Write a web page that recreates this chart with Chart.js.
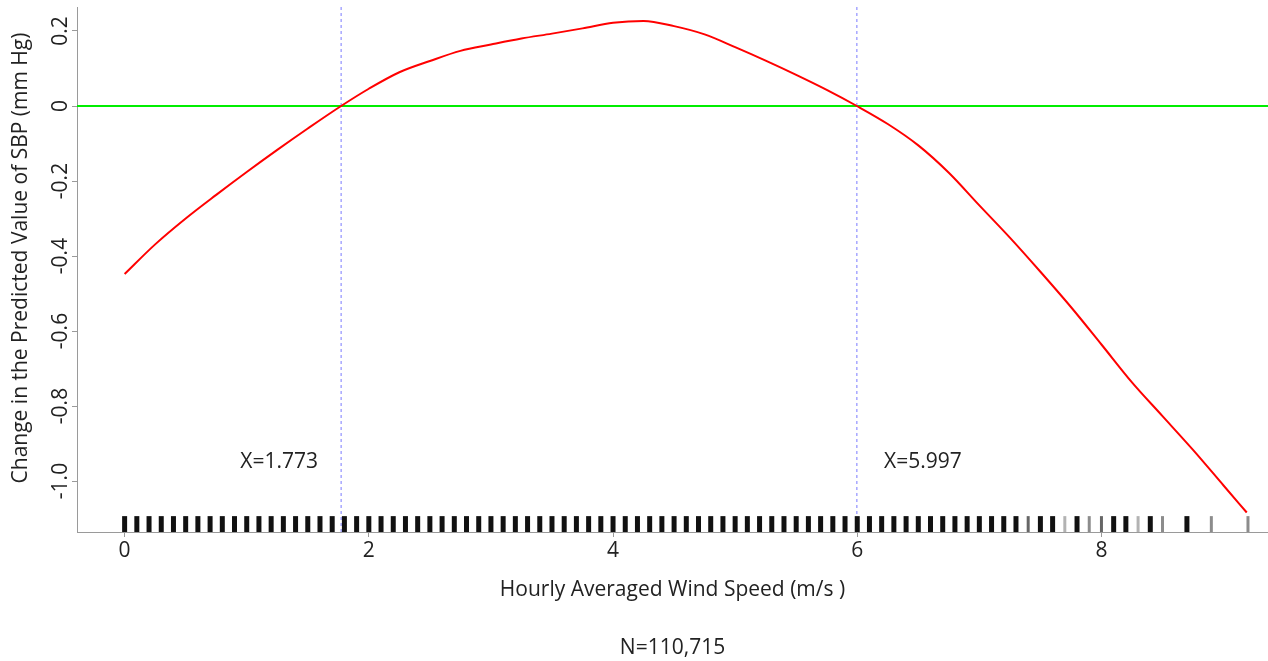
<!DOCTYPE html>
<html lang="en">
<head>
<meta charset="UTF-8">
<title>SBP change by wind speed</title>
<style>
  html, body { margin: 0; padding: 0; background: #fff; }
</style>
</head>
<body>
<canvas id="myChart" width="1268" height="661"></canvas>

<script src="https://cdn.jsdelivr.net/npm/chart.js"></script>
<script>
// fitted curve
const windSpeed = [0, 0.25, 0.5, 0.75, 1, 1.25, 1.5, 1.773, 2, 2.25, 2.5, 2.75, 3, 3.25, 3.5, 3.75,
                   4, 4.25, 4.5, 4.75, 5, 5.25, 5.5, 5.75, 5.997, 6.25, 6.5, 6.75, 7, 7.25, 7.5, 7.75,
                   8, 8.25, 8.5, 8.75, 9, 9.19];
const sbpChange = [-0.448, -0.369, -0.300, -0.237, -0.176, -0.117, -0.060, 0, 0.046, 0.090, 0.120, 0.147,
                   0.164, 0.180, 0.193, 0.207, 0.222, 0.227, 0.213, 0.191, 0.157, 0.121, 0.083, 0.043, 0,
                   -0.048, -0.105, -0.178, -0.265, -0.351, -0.442, -0.536, -0.636, -0.737, -0.827, -0.917,
                   -1.012, -1.084];

// turning points
const cutPoints = [1.773, 5.997];
const cutLabels = ['X=1.773', 'X=5.997'];

// rug of observed wind speeds
const rugSpeed = [0, 0.1, 0.2, 0.3, 0.4, 0.5, 0.6, 0.7, 0.8, 0.9,
                  1, 1.1, 1.2, 1.3, 1.4, 1.5, 1.6, 1.7, 1.8, 1.9,
                  2, 2.1, 2.2, 2.3, 2.4, 2.5, 2.6, 2.7, 2.8, 2.9,
                  3, 3.1, 3.2, 3.3, 3.4, 3.5, 3.6, 3.7, 3.8, 3.9,
                  4, 4.1, 4.2, 4.3, 4.4, 4.5, 4.6, 4.7, 4.8, 4.9,
                  5, 5.1, 5.2, 5.3, 5.4, 5.5, 5.6, 5.7, 5.8, 5.9,
                  6, 6.1, 6.2, 6.3, 6.4, 6.5, 6.6, 6.7, 6.8, 6.9,
                  7, 7.1, 7.2, 7.3, 7.4, 7.5, 7.6, 7.7, 7.8, 7.9,
                  8, 8.1, 8.2, 8.3, 8.4, 8.5, 8.7, 8.9, 9.2];
const rugFaint = [7.4, 7.7, 7.9, 8, 8.3, 8.5, 8.9, 9.2];
const rugFaintShade = [0.6, 0.3, 0.45, 0.6, 0.3, 0.45, 0.45, 0.45];

const xTicks = [0, 2, 4, 6, 8];
const yTicks = [0.2, 0, -0.2, -0.4, -0.6, -0.8, -1.0];
const yTickLabels = ['0.2', '0', '-0.2', '-0.4', '-0.6', '-0.8', '-1.0'];

const X_MIN = -0.39, X_MAX = 9.364, Y_MIN = -1.136, Y_MAX = 0.264;
const FONT = '"Open Sans", sans-serif';
const TEXT = '#222';
const AXIS = '#9a9a9a';

function rugColor(v) {
    const i = rugFaint.indexOf(v);
    if (i < 0) return '#111';
    const g = Math.round(255 * (1 - rugFaintShade[i]));
    return 'rgb(' + g + ',' + g + ',' + g + ')';
}

const extraText = {
    id: 'extraText',
    afterDraw(chart) {
        const { ctx, chartArea } = chart;
        const x = chart.scales.x, y = chart.scales.y;
        ctx.save();
        ctx.fillStyle = TEXT;
        ctx.font = '21px ' + FONT;
        ctx.textAlign = 'center';
        ctx.textBaseline = 'middle';

        // rotated y tick labels
        yTicks.forEach((v, i) => {
            ctx.save();
            ctx.translate(61, y.getPixelForValue(v));
            ctx.rotate(-Math.PI / 2);
            ctx.fillText(yTickLabels[i], 0, 0);
            ctx.restore();
        });

        // y title
        ctx.save();
        ctx.translate(21, 258);
        ctx.rotate(-Math.PI / 2);
        ctx.fillText('Change in the Predicted Value of SBP (mm Hg)', 0, 0);
        ctx.restore();

        // turning point labels
        ctx.fillText(cutLabels[0], x.getPixelForValue(cutPoints[0]) - 62, y.getPixelForValue(-0.95));
        ctx.fillText(cutLabels[1], x.getPixelForValue(cutPoints[1]) + 66, y.getPixelForValue(-0.95));

        // sample size
        ctx.fillText('N=110,715', (chartArea.left + chartArea.right) / 2, 648);
        ctx.restore();
    }
};

const ctx = document.getElementById('myChart');

let chart = new Chart(ctx, {
    type: 'line',
    data: {
        datasets: [
            {
                label: 'curve',
                data: windSpeed.map((v, i) => ({ x: v, y: sbpChange[i] })),
                borderColor: '#ff0000',
                borderWidth: 2,
                pointRadius: 0,
                cubicInterpolationMode: 'monotone',
                fill: false,
                order: 1
            },
            {
                label: 'zero',
                data: [{ x: X_MIN, y: 0 }, { x: X_MAX, y: 0 }],
                borderColor: '#00ee00',
                borderWidth: 2,
                pointRadius: 0,
                order: 3
            },
            ...cutPoints.map(c => ({
                label: 'cut ' + c,
                data: [{ x: c, y: Y_MAX }, { x: c, y: Y_MIN }],
                borderColor: '#7a7aff',
                borderWidth: 1,
                borderDash: [3, 3],
                pointRadius: 0,
                order: 2
            })),
            {
                label: 'rug',
                data: rugSpeed.map(v => ({ x: v, y: -1.115 })),
                showLine: false,
                pointStyle: 'line',
                rotation: 90,
                pointRadius: 8,
                pointBorderWidth: rugSpeed.map(v => rugFaint.includes(v) ? 3 : 5),
                pointBorderColor: rugSpeed.map(rugColor),
                order: 0
            }
        ]
    },
    options: {
        responsive: false,
        animation: false,
        events: [],
        layout: { autoPadding: false, padding: { top: 7, right: 0, bottom: 0, left: 0 } },
        scales: {
            x: {
                type: 'linear',
                min: X_MIN,
                max: X_MAX,
                afterBuildTicks: s => { s.ticks = xTicks.map(v => ({ value: v })); },
                afterFit: s => { s.height = 129; },
                grid: { display: true, drawOnChartArea: false, drawTicks: true, tickLength: 5, color: AXIS },
                border: { display: true, color: AXIS, width: 1 },
                ticks: { font: { family: FONT, size: 21 }, color: TEXT, padding: 1, maxRotation: 0, autoSkip: false },
                title: {
                    display: true,
                    text: 'Hourly Averaged Wind Speed (m/s )',
                    font: { family: FONT, size: 21 },
                    color: TEXT,
                    padding: { top: 0, bottom: 58 }
                }
            },
            y: {
                type: 'linear',
                min: Y_MIN,
                max: Y_MAX,
                afterBuildTicks: s => { s.ticks = yTicks.map(v => ({ value: v })); },
                afterFit: s => { s.width = 77; },
                grid: { display: true, drawOnChartArea: false, drawTicks: true, tickLength: 5, color: AXIS },
                border: { display: true, color: AXIS, width: 1 },
                ticks: { display: false }
            }
        },
        plugins: {
            legend: { display: false },
            tooltip: { enabled: false }
        }
    },
    plugins: [extraText]
});
</script>
</body>
</html>
